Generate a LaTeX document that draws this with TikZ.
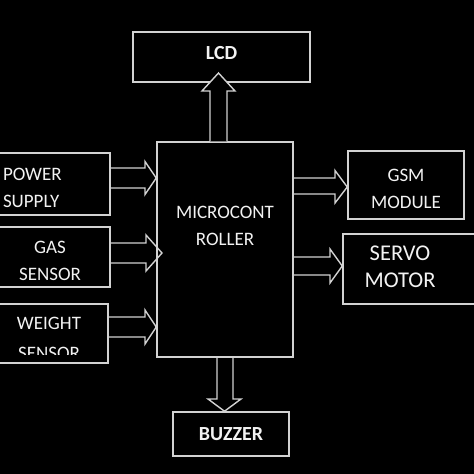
\documentclass[tikz,border=0pt]{standalone}
\usepackage{fontspec}
\setmainfont{Carlito}
\usetikzlibrary{positioning,calc}

\definecolor{edge}{HTML}{D2D2D2}
\definecolor{ink}{HTML}{F2F2F2}

\begin{document}
\begin{tikzpicture}[x=1pt,y=-1pt,
        box/.style={draw=edge,line width=1.5pt,inner sep=0pt,text=ink,align=center,
            font=\fontsize{19}{27}\selectfont},
        two/.style={text width=90pt,execute at begin node={\rule{0pt}{19.5pt}}},
        bold/.style={font=\fontsize{20}{24}\selectfont\bfseries},
        txt/.style={text=ink,align=center,inner sep=0pt,font=\fontsize{19}{27}\selectfont},
        blk/.style={draw=edge,line width=1.4pt,line join=miter}]
        % Background
        \fill[black] (0,0) rectangle (474,474);
        \useasboundingbox (0,0) rectangle (474,474);

        %%%% Blocks =====================================
        \node[box,minimum width=136pt,minimum height=215pt,
            label={[txt,yshift=24pt]center:{MICROCONT\\ROLLER}}] (mcu) at (225,249.5) {};
        \node[box,bold,minimum width=177pt,minimum height=50pt,text depth=8pt] (lcd) at (221.5,57) {LCD};
        \node[box,bold,minimum width=116pt,minimum height=44pt] (buzz) at (231,434) {BUZZER};

        % Inputs
        \node[box,two,align=left,text width=94pt,minimum width=120pt,minimum height=62pt] (pwr) at (50,184) {POWER\\SUPPLY};
        \node[box,two,minimum width=120pt,minimum height=60pt] (gas) at (50,257) {GAS\\SENSOR};
        \node[box,two,minimum width=118pt,minimum height=59pt,
            execute at begin node={\rule{0pt}{22.5pt}}] (wgt) at (49,333.5) {WEIGHT\\[3pt]SENSOR};
        \fill[black] (-9,355) rectangle (107,362);

        % Outputs
        \node[box,two,minimum width=116pt,minimum height=68pt] (gsm) at (406,185) {GSM\\MODULE};
        \node[box,minimum width=137pt,minimum height=70pt,
            label={[txt,xshift=-11.5pt,yshift=2pt,font=\fontsize{22.5}{27}\selectfont]center:{SERVO\\MOTOR}}] (servo) at (411.5,269) {};

        %%%% Block arrows ===============================
        % up to the display
        \draw[blk,fill=black] (mcu.north -| 210,0) -- (210,91) -- (202,91) -- (218.5,73)
            -- (235,91) -- (227,91) -- (mcu.north -| 227,0);
        % down to the buzzer
        \draw[blk] (mcu.south -| 217,0) -- (217,399) -- (208,399) -- (buzz.north -| 224.5,0)
            -- (241,399) -- (233,399) -- (mcu.south -| 233,0);

        % inputs
        \draw[blk] (pwr.east |- 0,168) -- (145,168) -- (145,161.5) -- (mcu.west |- 0,178)
            -- (145,194.5) -- (145,188) -- (pwr.east |- 0,188);
        \draw[blk] (gas.east |- 0,243) -- (146,243) -- (146,235) -- (162,253)
            -- (146,271) -- (146,263) -- (gas.east |- 0,263);
        \draw[blk] (wgt.east |- 0,317) -- (145,317) -- (145,310) -- (mcu.west |- 0,327)
            -- (145,344) -- (145,337) -- (wgt.east |- 0,337);

        % outputs
        \draw[blk] (mcu.east |- 0,178) -- (335,178) -- (335,170.5) -- (gsm.west |- 0,187)
            -- (335,203) -- (335,194) -- (mcu.east |- 0,194);
        \draw[blk] (mcu.east |- 0,257) -- (330,257) -- (330,249) -- (servo.west |- 0,266)
            -- (330,283) -- (330,275) -- (mcu.east |- 0,275);
\end{tikzpicture}
\end{document}
